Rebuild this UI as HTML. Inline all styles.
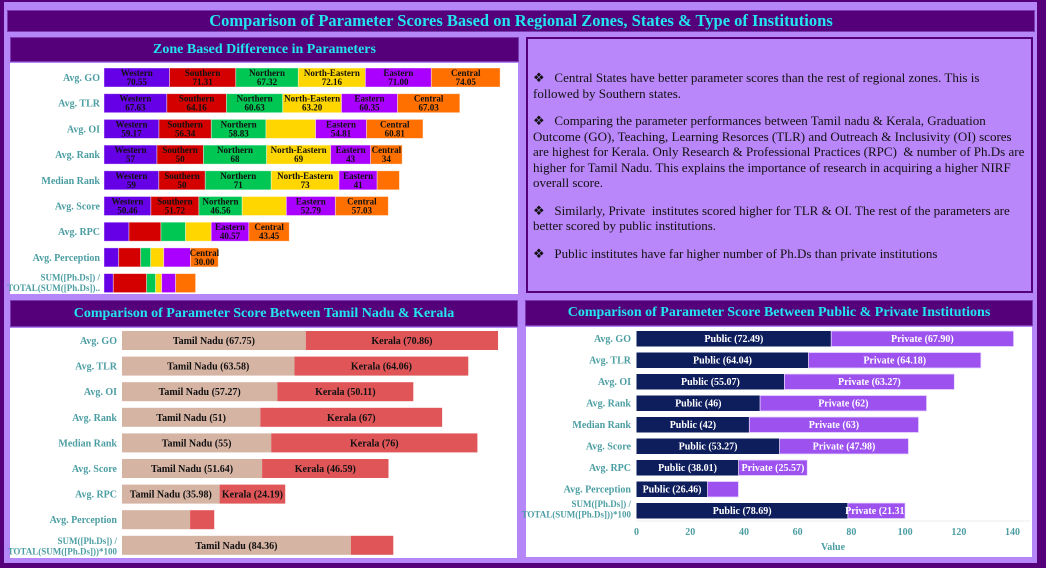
<!DOCTYPE html>
<html><head><meta charset="utf-8">
<style>
html,body{margin:0;padding:0;}
body{width:1046px;height:568px;background:#55007a;position:relative;overflow:hidden;font-family:"Liberation Serif",serif;}
.abs{position:absolute;}
.frame{left:4px;top:2px;width:1033px;height:561px;background:#b586f7;}
.hdr{background:#55007a;color:#22e6ee;font-weight:bold;text-align:center;box-sizing:border-box;border:1px solid #7a3cb0;}
.white{background:#fff;}
#notes{left:526px;top:37px;width:507px;height:256px;box-sizing:border-box;border:2px solid #55007a;background:#b987fa;color:#111;font-size:13px;line-height:15.5px;padding:31px 6px 0 5px;}
#notes p{margin:0 0 12px 0;}
svg{position:absolute;left:0;top:0;}
</style></head><body>
<div class="abs frame"></div>
<div class="abs hdr" style="left:7px;top:10px;width:1028px;height:22px;font-size:16.5px;line-height:20px;">Comparison of Parameter Scores Based on Regional Zones, States &amp; Type of Institutions</div>

<div class="abs hdr" style="left:10px;top:37px;width:509px;height:25px;font-size:14px;line-height:23px;">Zone Based Difference in Parameters</div>
<div class="abs white" style="left:10px;top:63px;width:508px;height:231px;"></div>

<div class="abs" id="notes">
<p>❖&nbsp;&nbsp; Central States have better parameter scores than the rest of regional zones. This is followed by Southern states.</p>
<p>❖&nbsp;&nbsp; Comparing the parameter performances between Tamil nadu &amp; Kerala, Graduation Outcome (GO), Teaching, Learning Resorces (TLR) and Outreach &amp; Inclusivity (OI) scores are highest for Kerala. Only Research &amp; Professional Practices (RPC)&nbsp; &amp; number of Ph.Ds are higher for Tamil Nadu. This explains the importance of research in acquiring a higher NIRF overall score.</p>
<p>❖&nbsp;&nbsp; Similarly, Private&nbsp; institutes scored higher for TLR &amp; OI. The rest of the parameters are better scored by public institutions.</p>
<p>❖&nbsp;&nbsp; Public institutes have far higher number of Ph.Ds than private institutions</p>
</div>

<div class="abs hdr" style="left:10px;top:300px;width:508px;height:27px;font-size:14px;line-height:25px;">Comparison of Parameter Score Between Tamil Nadu &amp; Kerala</div>
<div class="abs white" style="left:10px;top:328px;width:507px;height:230px;"></div>

<div class="abs hdr" style="left:525px;top:300px;width:508px;height:26px;font-size:14px;line-height:24px;">Comparison of Parameter Score Between Public &amp; Private Institutions</div>
<div class="abs white" style="left:526px;top:327px;width:506px;height:230px;"></div>

<svg id="chart" width="1046" height="568"></svg>

<script>
// ---------- Chart 1: zone data ----------
const zoneCategories = ["Avg. GO","Avg. TLR","Avg. OI","Avg. Rank","Median Rank","Avg. Score","Avg. RPC","Avg. Perception","PHD"];
const zoneNames = ["Western","Southern","Northern","North-Eastern","Eastern","Central"];
const zoneWestern = [70.55,67.63,59.17,57,59,50.46,26.9,15.8,10];
const zoneSouthern = [71.31,64.16,56.34,50,50,51.72,34.4,23.7,35.9];
const zoneNorthern = [67.32,60.63,58.83,68,71,46.56,26.5,10.8,9.7];
const zoneNorthEastern = [72.16,63.20,53.4,69,73,47.5,27.6,14,6.5];
const zoneEastern = [71.00,60.35,54.81,43,41,52.79,40.57,28.7,15];
const zoneCentral = [74.05,67.03,60.81,34,24,57.03,43.45,30.00,21.5];
const zoneIntegerRows = [3,4];
const zoneHidden = ["2-3","4-5","5-3","6-0","6-1","6-2","6-3","7-0","7-1","7-2","7-3","7-4","8-0","8-1","8-2","8-3","8-4","8-5"];

// ---------- Chart 2: TN vs Kerala ----------
const stateCategories = ["Avg. GO","Avg. TLR","Avg. OI","Avg. Rank","Median Rank","Avg. Score","Avg. RPC","Avg. Perception","PHD"];
const tamilNadu = [67.75,63.58,57.27,51,55,51.64,35.98,25.1,84.36];
const kerala = [70.86,64.06,50.11,67,76,46.59,24.19,8.9,15.64];
const stateLabelTN = ["Tamil Nadu (67.75)","Tamil Nadu (63.58)","Tamil Nadu (57.27)","Tamil Nadu (51)","Tamil Nadu (55)","Tamil Nadu (51.64)","Tamil Nadu (35.98)","","Tamil Nadu (84.36)"];
const stateLabelKe = ["Kerala (70.86)","Kerala (64.06)","Kerala (50.11)","Kerala (67)","Kerala (76)","Kerala (46.59)","Kerala (24.19)","",""];

// ---------- Chart 3: Public vs Private ----------
const typeCategories = ["Avg. GO","Avg. TLR","Avg. OI","Avg. Rank","Median Rank","Avg. Score","Avg. RPC","Avg. Perception","PHD"];
const publicVals = [72.49,64.04,55.07,46,42,53.27,38.01,26.46,78.69];
const privateVals = [67.90,64.18,63.27,62,63,47.98,25.57,11.5,21.31];
const publicLabels = ["Public (72.49)","Public (64.04)","Public (55.07)","Public (46)","Public (42)","Public (53.27)","Public (38.01)","Public (26.46)","Public (78.69)"];
const privateLabels = ["Private (67.90)","Private (64.18)","Private (63.27)","Private (62)","Private (63)","Private (47.98)","Private (25.57)","","Private (21.31)"];
const typeTicks = [0,20,40,60,80,100,120,140];

const NS="http://www.w3.org/2000/svg";
const svg=document.getElementById('chart');
function mk(tag,attrs,parent){const e=document.createElementNS(NS,tag);for(const k in attrs)e.setAttribute(k,attrs[k]);(parent||svg).appendChild(e);return e;}
function txt(x,y,s,size,fill,anchor,parent){const t=mk('text',{x:x,y:y,'font-size':size,'font-weight':'bold','font-family':'Liberation Serif, serif',fill:fill,'text-anchor':anchor||'middle'},parent);t.textContent=s;return t;}
const TEAL="#4c9ea3";
function catLabel(cat,x,yc,parent){
  return txt(x,yc+3.5,cat,10,TEAL,'end',parent);
}

// Chart 1
const zx=v=>104+v*0.929;
const zy=i=>68+i*25.7;
const zoneColors=["#6600e6","#d40000","#00c653","#ffd600","#aa00ff","#ff7000"];
const zoneSeries=[zoneWestern,zoneSouthern,zoneNorthern,zoneNorthEastern,zoneEastern,zoneCentral];
zoneCategories.forEach((cat,i)=>{
  const g=mk('g',{});
  
  
  if(cat==="PHD"){
    txt(100,zy(i)+7,'SUM([Ph.Ds]) /',9,TEAL,'end',g);
    txt(100,zy(i)+17.5,'TOTAL(SUM([Ph.Ds])..',9,TEAL,'end',g);
  } else {
    const l=catLabel(cat,100,zy(i)+9.5,g);
    
    
  }
  let acc=0;
  zoneSeries.forEach((s,j)=>{
    const v=s[i];
    const r=mk('rect',{x:zx(acc),y:zy(i),width:v*0.929,height:19,fill:zoneColors[j],stroke:'#ffffff','stroke-opacity':0.5,'stroke-width':0.8},g);
    
    
    if(zoneHidden.indexOf(i+'-'+j)<0){
      const cx=zx(acc+v/2);
      txt(cx,zy(i)+8,zoneNames[j],9,'#111','middle',g);
      const val=zoneIntegerRows.indexOf(i)>=0?String(Math.round(v)):v.toFixed(2);
      txt(cx,zy(i)+17,val,9,'#111','middle',g);
    }
    acc+=v;
  });
});

// Chart 2
const sx=v=>122+v*2.713;
const sy=i=>331+i*25.6;
stateCategories.forEach((cat,i)=>{
  const g=mk('g',{});
  
  
  if(cat==="PHD"){
    txt(117,sy(i)+8,'SUM([Ph.Ds]) /',9,TEAL,'end',g);
    txt(117,sy(i)+18.5,'TOTAL(SUM([Ph.Ds]))*100',9,TEAL,'end',g);
  } else catLabel(cat,117,sy(i)+9.5,g);
  const a=mk('rect',{x:sx(0),y:sy(i),width:tamilNadu[i]*2.713,height:19,fill:'#d6b4a4'},g);
  
  
  const b=mk('rect',{x:sx(tamilNadu[i]),y:sy(i),width:kerala[i]*2.713,height:19,fill:'#e05558'},g);
  
  
  if(stateLabelTN[i])txt(sx(tamilNadu[i]/2),sy(i)+13,stateLabelTN[i],10,'#111','middle',g);
  if(stateLabelKe[i])txt(sx(tamilNadu[i]+kerala[i]/2),sy(i)+13,stateLabelKe[i],10,'#111','middle',g);
});

// Chart 3
const tx=v=>636.5+v*2.686;
const ty=i=>331+i*21.5;
typeCategories.forEach((cat,i)=>{
  const g=mk('g',{});
  
  
  if(cat==="PHD"){
    txt(631,ty(i)+4,'SUM([Ph.Ds]) /',9,TEAL,'end',g);
    txt(631,ty(i)+14.5,'TOTAL(SUM([Ph.Ds]))*100',9,TEAL,'end',g);
  } else catLabel(cat,631,ty(i)+7.5,g);
  const a=mk('rect',{x:tx(0),y:ty(i),width:publicVals[i]*2.686,height:15.5,fill:'#0e1d5c'},g);
  
  
  const b=mk('rect',{x:tx(publicVals[i]),y:ty(i),width:privateVals[i]*2.686,height:15.5,fill:'#9d52f0',stroke:'#e8d8ff','stroke-width':0.8},g);
  
  
  if(publicLabels[i])txt(tx(publicVals[i]/2),ty(i)+11,publicLabels[i],10,'#fff','middle',g);
  if(privateLabels[i])txt(tx(publicVals[i]+privateVals[i]/2),ty(i)+11,privateLabels[i],10,'#fff','middle',g);
});
const axisLine=mk('line',{x1:tx(0),x2:1030,y1:521,y2:521,stroke:'#eeeeee','stroke-width':1});


typeTicks.forEach(t=>{
  const e=txt(tx(t),535,String(t),10,TEAL,'middle');
  
  
});
const xt=txt(833,550,'Value',10,TEAL,'middle');


</script>
</body></html>
